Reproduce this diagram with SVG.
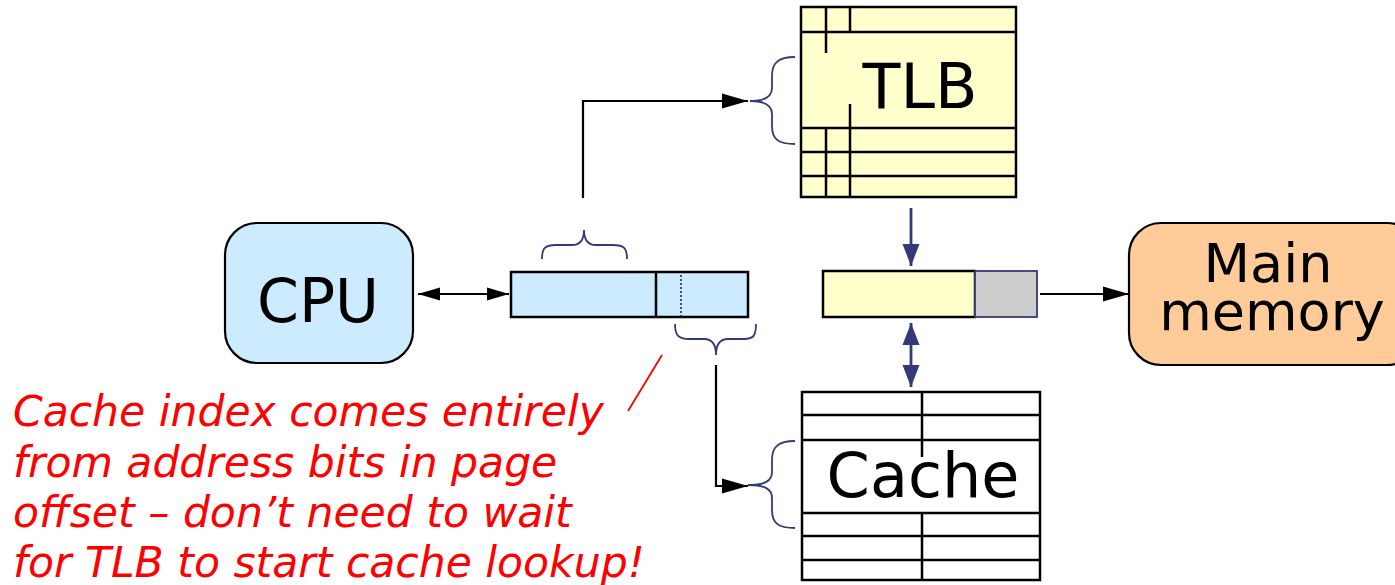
<svg xmlns="http://www.w3.org/2000/svg" width="1395" height="585" viewBox="0 0 1395 585">
<style>
.lbl{font-family:"DejaVu Sans",Verdana,sans-serif;fill:#000}
.note{font-family:"DejaVu Sans",Verdana,sans-serif;font-style:italic;font-size:42.5px;fill:#FF0000}
.grid{stroke:#000;stroke-width:2.5;fill:none}
.brace{stroke:#333A7A;stroke-width:1.8;fill:none}
.blk{stroke:#000;stroke-width:2.2;fill:none}
.navy{stroke:#333A7A;stroke-width:2.8;fill:none}
</style>
<defs>
<marker id="ab" markerUnits="userSpaceOnUse" markerWidth="28" markerHeight="18" refX="26" refY="9" orient="auto-start-reverse">
<path d="M0,1.5 L26,9 L0,16.5 Z" fill="#000"/>
</marker>
<marker id="as" markerUnits="userSpaceOnUse" markerWidth="24" markerHeight="16" refX="22" refY="8" orient="auto-start-reverse">
<path d="M0,1.5 L22,8 L0,14.5 Z" fill="#000"/>
</marker>
<marker id="an" markerUnits="userSpaceOnUse" markerWidth="24" markerHeight="20" refX="22" refY="10" orient="auto-start-reverse">
<path d="M0,1.5 L22,10 L0,18.5 Z" fill="#333A7A"/>
</marker>
</defs>

<g id="cpu">
<rect x="225" y="223" width="188" height="140" rx="32" fill="#CCEBFF" stroke="#000" stroke-width="2.2"/>
<text class="lbl" x="318" y="322" font-size="60" text-anchor="middle">CPU</text>
</g>

<g id="virtual-address">
<rect x="511" y="272" width="237" height="45" fill="#CCEBFF" stroke="#000" stroke-width="2.5"/>
<line x1="656" y1="272" x2="656" y2="317" class="grid"/>
<line x1="681" y1="275" x2="681" y2="316" stroke="#333A7A" stroke-width="1.8" stroke-dasharray="2,2"/>
<path class="brace" d="M542,259 C542,248 545,245 556,245 L572,245 C580,245 584,240 584,230 C584,240 588,245 596,245 L613,245 C624,245 627,248 627,259"/>
<path class="brace" d="M675,324 C675,335 678,339 689,339 L704,339 C712,339 716,344 716,355 C716,344 720,339 728,339 L744,339 C754,339 756,335 756,324"/>
</g>

<g id="tlb">
<rect x="801" y="7" width="215" height="190" fill="#FFFFCC" stroke="#000" stroke-width="2.5"/>
<line class="grid" x1="801" y1="32" x2="1016" y2="32"/>
<line class="grid" x1="801" y1="128" x2="1016" y2="128"/>
<line class="grid" x1="801" y1="152" x2="1016" y2="152"/>
<line class="grid" x1="801" y1="176" x2="1016" y2="176"/>
<line class="grid" x1="826" y1="7" x2="826" y2="53"/>
<line class="grid" x1="826" y1="128" x2="826" y2="197"/>
<line class="grid" x1="850" y1="7" x2="850" y2="32"/>
<line class="grid" x1="850" y1="104" x2="850" y2="197"/>
<text class="lbl" x="920" y="108" font-size="62" text-anchor="middle">TLB</text>
<path class="brace" d="M795,57 C778,57 772,63 772,76 L772,88 C772,97 765,101 750,101 C765,101 772,105 772,114 L772,126 C772,139 778,144 795,144"/>
</g>

<g id="physical-address">
<rect x="823" y="271" width="152" height="46" fill="#FFFFCC" stroke="#000" stroke-width="2.5"/>
<rect x="975" y="271" width="62" height="46" fill="#CCCCCC" stroke="#333A7A" stroke-width="1.8"/>
</g>

<g id="cache">
<rect x="802" y="392" width="238" height="188" fill="#FFFFFF" stroke="#000" stroke-width="2.5"/>
<line class="grid" x1="802" y1="415" x2="1040" y2="415"/>
<line class="grid" x1="802" y1="440" x2="1040" y2="440"/>
<line class="grid" x1="802" y1="513" x2="1040" y2="513"/>
<line class="grid" x1="802" y1="536" x2="1040" y2="536"/>
<line class="grid" x1="802" y1="560" x2="1040" y2="560"/>
<line class="grid" x1="922" y1="392" x2="922" y2="457"/>
<line class="grid" x1="922" y1="513" x2="922" y2="580"/>
<text class="lbl" x="923" y="497" font-size="62" text-anchor="middle">Cache</text>
<path class="brace" d="M795,441 C778,441 772,447 772,460 L772,472 C772,481 765,485 748,485 C765,485 772,489 772,498 L772,510 C772,523 778,528 795,528"/>
</g>

<g id="main-memory">
<rect x="1129" y="223" width="290" height="142" rx="32" fill="#FFCC99" stroke="#000" stroke-width="2.2"/>
<text class="lbl" x="1268" y="282" font-size="54" text-anchor="middle">Main</text>
<text class="lbl" x="1272" y="330" font-size="54" text-anchor="middle">memory</text>
</g>

<g id="note">
<text class="note" x="13" y="426">Cache index comes entirely</text>
<text class="note" x="13" y="477">from address bits in page</text>
<text class="note" x="13" y="527">offset – don’t need to wait</text>
<text class="note" x="13" y="577">for TLB to start cache lookup!</text>
<line x1="662" y1="355" x2="628" y2="411" stroke="#FF0000" stroke-width="1.8"/>
</g>

<g id="connectors">
<line class="blk" x1="418" y1="294" x2="509" y2="294" marker-start="url(#as)" marker-end="url(#as)"/>
<path class="blk" d="M583,198 L583,101 L748,101" marker-end="url(#ab)"/>
<path class="blk" d="M716,365 L716,486 L748,486" marker-end="url(#ab)"/>
<line class="blk" x1="1040" y1="294" x2="1129" y2="294" marker-end="url(#ab)"/>
<line class="navy" x1="911" y1="208" x2="911" y2="266" marker-end="url(#an)"/>
<line class="navy" x1="911" y1="323" x2="911" y2="387" marker-start="url(#an)" marker-end="url(#an)"/>
</g>
</svg>
